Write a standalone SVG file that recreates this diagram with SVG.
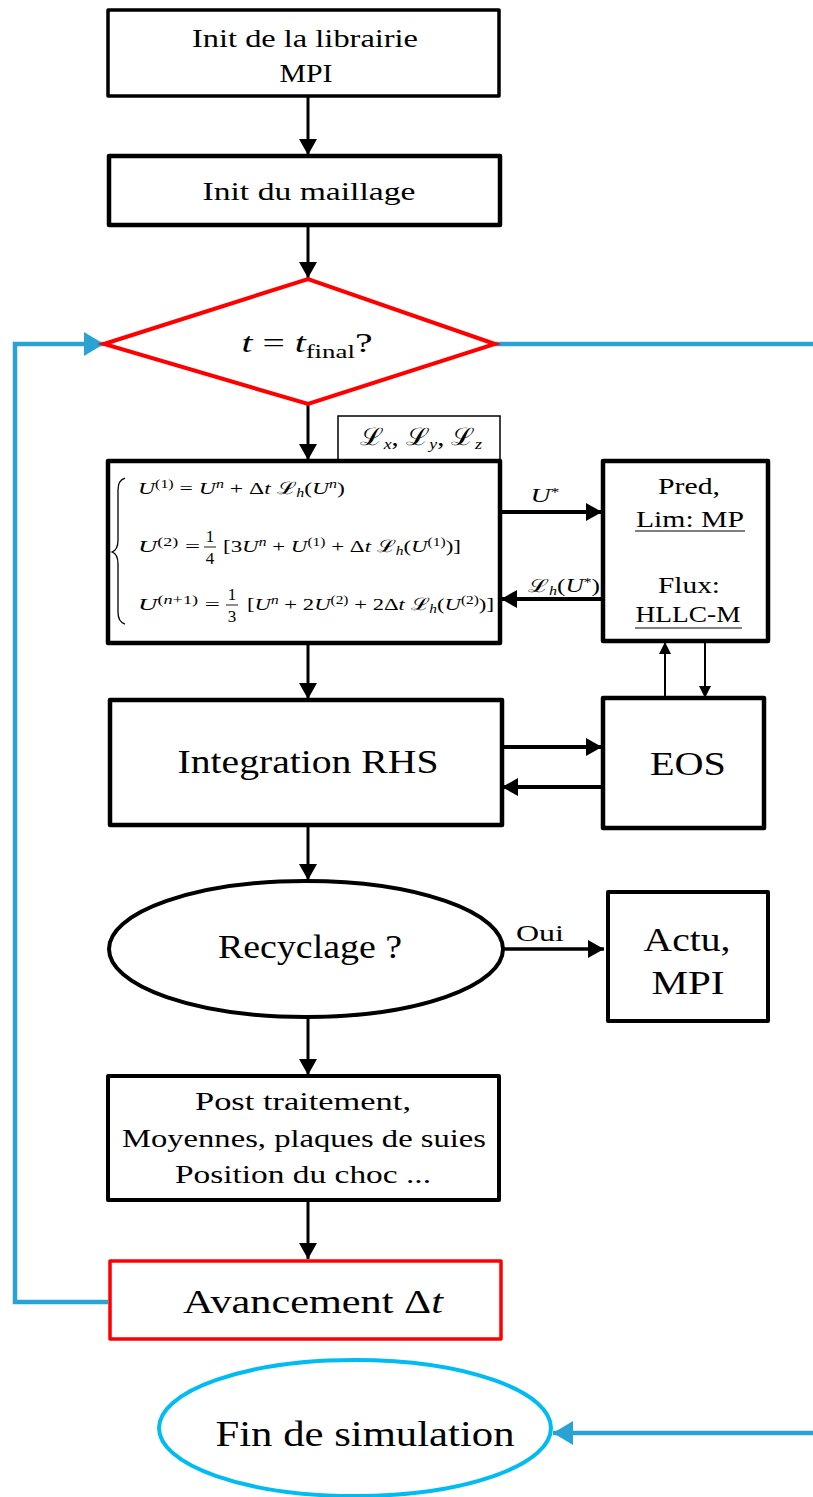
<svg xmlns="http://www.w3.org/2000/svg" width="813" height="1497" viewBox="0 0 813 1497">
<style>
text{font-family:"Liberation Serif","DejaVu Serif",serif;fill:#000;text-anchor:middle}
.box{fill:#fff;stroke:#000;stroke-linejoin:round}
.c{stroke:#000;fill:none}
.blue{stroke:#2aa3d4;fill:none;stroke-width:4.5}
.eq{font-size:17px;text-anchor:start}
.i{font-style:italic}
.s{font-size:11.5px}
.fr{font-size:17px}
</style>
<defs>
<marker id="ah" markerUnits="userSpaceOnUse" viewBox="0 0 16 18" markerWidth="16" markerHeight="18" refX="16" refY="9" orient="auto"><path d="M0,0L16,9L0,18z" fill="#000"/></marker>
<marker id="ahs" markerUnits="userSpaceOnUse" viewBox="0 0 12 12" markerWidth="12" markerHeight="12" refX="12" refY="6" orient="auto"><path d="M0,0L12,6L0,12z" fill="#000"/></marker>
<marker id="ahb" markerUnits="userSpaceOnUse" viewBox="0 0 20 24" markerWidth="20" markerHeight="24" refX="20" refY="12" orient="auto"><path d="M0,0L20,12L0,24z" fill="#2aa3d4"/></marker>
</defs>

<g id="connectors">
<line class="c" stroke-width="3" x1="308" y1="96" x2="308" y2="155" marker-end="url(#ah)"/>
<line class="c" stroke-width="3" x1="308" y1="225" x2="308" y2="278" marker-end="url(#ah)"/>
<line class="c" stroke-width="3" x1="308" y1="404" x2="308" y2="460" marker-end="url(#ah)"/>
<line class="c" stroke-width="4" x1="500" y1="512" x2="602" y2="512" marker-end="url(#ah)"/>
<line class="c" stroke-width="4" x1="603" y1="599" x2="501" y2="599" marker-end="url(#ah)"/>
<line class="c" stroke-width="3" x1="308" y1="643" x2="308" y2="699" marker-end="url(#ah)"/>
<line class="c" stroke-width="2" x1="665" y1="698" x2="665" y2="642" marker-end="url(#ahs)"/>
<line class="c" stroke-width="2" x1="705" y1="642" x2="705" y2="698" marker-end="url(#ahs)"/>
<line class="c" stroke-width="4" x1="502" y1="747" x2="602" y2="747" marker-end="url(#ah)"/>
<line class="c" stroke-width="4" x1="603" y1="787" x2="502" y2="787" marker-end="url(#ah)"/>
<line class="c" stroke-width="3" x1="308" y1="825" x2="308" y2="880" marker-end="url(#ah)"/>
<line class="c" stroke-width="3.5" x1="503" y1="949" x2="604" y2="949" marker-end="url(#ah)"/>
<line class="c" stroke-width="3" x1="308" y1="1018" x2="308" y2="1075" marker-end="url(#ah)"/>
<line class="c" stroke-width="3" x1="308" y1="1200" x2="308" y2="1259" marker-end="url(#ah)"/>
<polyline class="blue" points="108,1302 15,1302 15,344 104,344" marker-end="url(#ahb)"/>
<line class="blue" x1="495" y1="344" x2="813" y2="344"/>
<line class="blue" x1="813" y1="1433" x2="553" y2="1433" marker-end="url(#ahb)"/>
<text x="545" y="502" font-size="18" textLength="29" lengthAdjust="spacingAndGlyphs"><tspan class="i">U</tspan><tspan class="s" dy="-6">*</tspan></text>
<text x="564" y="592" font-size="18" textLength="72" lengthAdjust="spacingAndGlyphs">ℒ<tspan class="s i" dy="3">h</tspan><tspan dy="-3">(</tspan><tspan class="i">U</tspan><tspan class="s" dy="-6">*</tspan><tspan dy="6">)</tspan></text>
<text x="540" y="941" font-size="24" textLength="48" lengthAdjust="spacingAndGlyphs">Oui</text>
</g>

<g id="n-init-mpi">
<rect class="box" x="108" y="10" width="391" height="86" stroke-width="3.5"/>
<text x="305" y="47" font-size="26" textLength="226" lengthAdjust="spacingAndGlyphs">Init de la librairie</text>
<text x="306" y="82" font-size="26" textLength="53" lengthAdjust="spacingAndGlyphs">MPI</text>
</g>

<g id="n-maillage">
<rect class="box" x="109" y="156" width="391" height="69" stroke-width="4.5"/>
<text x="309" y="200" font-size="26" textLength="213" lengthAdjust="spacingAndGlyphs">Init du maillage</text>
</g>

<g id="n-tfinal">
<polygon points="104,344 308,279 495,344 308,404" fill="#fff" stroke="#f00" stroke-width="4" stroke-linejoin="miter"/>
<text x="307" y="352" font-size="28" textLength="131" lengthAdjust="spacingAndGlyphs"><tspan class="i">t</tspan> = <tspan class="i">t</tspan><tspan font-size="19" dy="6">final</tspan><tspan dy="-6">?</tspan></text>
</g>

<g id="n-operators">
<rect x="338" y="416" width="162" height="44" fill="#fff" stroke="#000" stroke-width="1.5"/>
<text x="421" y="445" font-size="24" textLength="122" lengthAdjust="spacingAndGlyphs">ℒ<tspan class="i" font-size="15" dy="4">x</tspan><tspan dy="-4">, ℒ</tspan><tspan class="i" font-size="15" dy="4">y</tspan><tspan dy="-4">, ℒ</tspan><tspan class="i" font-size="15" dy="4">z</tspan></text>
</g>

<g id="n-rk">
<rect class="box" x="108" y="461" width="392" height="182" stroke-width="4.5"/>
<path class="c" stroke-width="1.3" d="M125,478 Q118,480 118,490 L118,540 Q118,550 112,552 Q118,554 118,564 L118,612 Q118,622 125,624"/>
<text class="eq" x="138" y="494" textLength="207" lengthAdjust="spacingAndGlyphs"><tspan class="i">U</tspan><tspan class="s" dy="-6">(1)</tspan><tspan dy="6"> = </tspan><tspan class="i">U</tspan><tspan class="s i" dy="-6">n</tspan><tspan dy="6"> + Δ</tspan><tspan class="i">t</tspan><tspan> ℒ</tspan><tspan class="s i" dy="3">h</tspan><tspan dy="-3">(</tspan><tspan class="i">U</tspan><tspan class="s i" dy="-6">n</tspan><tspan dy="6">)</tspan></text>
<text class="eq" x="138" y="552" textLength="62" lengthAdjust="spacingAndGlyphs"><tspan class="i">U</tspan><tspan class="s" dy="-6">(2)</tspan><tspan dy="6"> =</tspan></text>
<text class="fr" x="210" y="542">1</text>
<line x1="204" y1="547" x2="216" y2="547" stroke="#000" stroke-width="0.9"/>
<text class="fr" x="210" y="564">4</text>
<text class="eq" x="223" y="552" textLength="238" lengthAdjust="spacingAndGlyphs"><tspan>[3</tspan><tspan class="i">U</tspan><tspan class="s i" dy="-6">n</tspan><tspan dy="6"> + </tspan><tspan class="i">U</tspan><tspan class="s" dy="-6">(1)</tspan><tspan dy="6"> + Δ</tspan><tspan class="i">t</tspan><tspan> ℒ</tspan><tspan class="s i" dy="3">h</tspan><tspan dy="-3">(</tspan><tspan class="i">U</tspan><tspan class="s" dy="-6">(1)</tspan><tspan dy="6">)]</tspan></text>
<text class="eq" x="138" y="610" textLength="82" lengthAdjust="spacingAndGlyphs"><tspan class="i">U</tspan><tspan class="s" dy="-6">(<tspan class="i">n</tspan>+1)</tspan><tspan dy="6"> =</tspan></text>
<text class="fr" x="232" y="600">1</text>
<line x1="226" y1="605" x2="238" y2="605" stroke="#000" stroke-width="0.9"/>
<text class="fr" x="232" y="622">3</text>
<text class="eq" x="247" y="610" textLength="247" lengthAdjust="spacingAndGlyphs"><tspan>[</tspan><tspan class="i">U</tspan><tspan class="s i" dy="-6">n</tspan><tspan dy="6"> + 2</tspan><tspan class="i">U</tspan><tspan class="s" dy="-6">(2)</tspan><tspan dy="6"> + 2Δ</tspan><tspan class="i">t</tspan><tspan> ℒ</tspan><tspan class="s i" dy="3">h</tspan><tspan dy="-3">(</tspan><tspan class="i">U</tspan><tspan class="s" dy="-6">(2)</tspan><tspan dy="6">)]</tspan></text>
</g>

<g id="n-pred">
<rect class="box" x="603" y="461" width="165" height="180" stroke-width="4.5"/>
<text x="689" y="494" font-size="24" textLength="62" lengthAdjust="spacingAndGlyphs">Pred,</text>
<text x="690" y="527" font-size="24" textLength="108" lengthAdjust="spacingAndGlyphs">Lim: MP</text>
<line x1="635" y1="531" x2="745" y2="531" stroke="#000" stroke-width="1.2"/>
<text x="689" y="593" font-size="24" textLength="62" lengthAdjust="spacingAndGlyphs">Flux:</text>
<text x="688" y="622" font-size="24" textLength="105" lengthAdjust="spacingAndGlyphs">HLLC-M</text>
<line x1="635" y1="628" x2="742" y2="628" stroke="#000" stroke-width="1.2"/>
</g>

<g id="n-rhs">
<rect class="box" x="110" y="700" width="392" height="125" stroke-width="4.5"/>
<text x="308" y="773" font-size="34" textLength="261" lengthAdjust="spacingAndGlyphs">Integration RHS</text>
</g>

<g id="n-eos">
<rect class="box" x="603" y="698" width="161" height="130" stroke-width="4.5"/>
<text x="688" y="775" font-size="34" textLength="76" lengthAdjust="spacingAndGlyphs">EOS</text>
</g>

<g id="n-recyclage">
<ellipse cx="306" cy="949" rx="197" ry="68" fill="#fff" stroke="#000" stroke-width="4"/>
<text x="310" y="958" font-size="33" textLength="184" lengthAdjust="spacingAndGlyphs">Recyclage ?</text>
</g>

<g id="n-actu">
<rect class="box" x="608" y="892" width="160" height="129" stroke-width="4"/>
<text x="687" y="951" font-size="34" textLength="87" lengthAdjust="spacingAndGlyphs">Actu,</text>
<text x="688" y="994" font-size="34" textLength="73" lengthAdjust="spacingAndGlyphs">MPI</text>
</g>

<g id="n-post">
<rect class="box" x="108" y="1076" width="391" height="124" stroke-width="4"/>
<text x="303" y="1110" font-size="26" textLength="216" lengthAdjust="spacingAndGlyphs">Post traitement,</text>
<text x="304" y="1147" font-size="26" textLength="364" lengthAdjust="spacingAndGlyphs">Moyennes, plaques de suies</text>
<text x="303" y="1183" font-size="26" textLength="256" lengthAdjust="spacingAndGlyphs">Position du choc ...</text>
</g>

<g id="n-avancement">
<rect x="110" y="1261" width="391" height="78" fill="#fff" stroke="#f00" stroke-width="3.5" stroke-linejoin="round"/>
<text x="313" y="1313" font-size="34" textLength="260" lengthAdjust="spacingAndGlyphs">Avancement Δ<tspan class="i">t</tspan></text>
</g>

<g id="n-fin">
<ellipse cx="355" cy="1428" rx="196" ry="68" fill="#fff" stroke="#00bcf2" stroke-width="4"/>
<text x="365" y="1446" font-size="35" textLength="299" lengthAdjust="spacingAndGlyphs">Fin de simulation</text>
</g>
</svg>
